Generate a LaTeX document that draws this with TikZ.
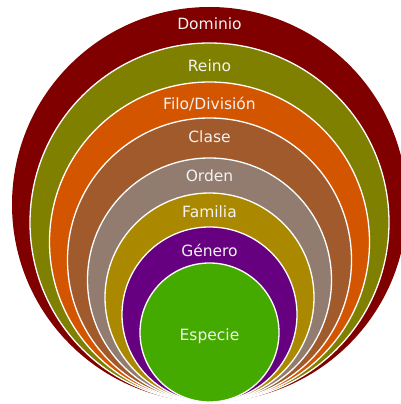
\documentclass[tikz,border=0pt]{standalone}
\usepackage{fontspec}
\setmainfont{DejaVu Sans}
\definecolor{cDominio}{HTML}{800000}
\definecolor{cReino}{HTML}{808000}
\definecolor{cFilo}{HTML}{D45500}
\definecolor{cClase}{HTML}{A05A2C}
\definecolor{cOrden}{HTML}{917C6F}
\definecolor{cFamilia}{HTML}{AA8800}
\definecolor{cGenero}{HTML}{660080}
\definecolor{cEspecie}{HTML}{44AA00}
\definecolor{labeltext}{HTML}{F2F2F2}
\begin{document}
\begin{tikzpicture}[x=1pt,y=1pt,
  ring/.style={circle, draw=white, line width=1.3pt, inner sep=0pt, minimum size=#1},
  lbl/.style={text=labeltext, anchor=base, inner sep=0pt, font=\fontsize{15.5}{18}\selectfont}]
\useasboundingbox (0,0) rectangle (401,404);
\clip (0,0) rectangle (401,404);
% nested taxonomic ranks, all touching at the bottom point
\coordinate (foot) at (209.5,2);
\node[ring=395pt, fill=cDominio, draw=none] (dominio) at (209.5,199.5) {};
\node[ring=359pt, fill=cReino]   (reino)   at (209.5,181.5) {};
\node[ring=320pt, fill=cFilo]    (filo)    at (209.5,162) {};
\node[ring=284pt, fill=cClase]   (clase)   at (209.5,144) {};
\node[ring=244pt, fill=cOrden]   (orden)   at (209.5,124) {};
\node[ring=209pt, fill=cFamilia] (familia) at (209.5,106.5) {};
\node[ring=175pt, fill=cGenero]  (genero)  at (209.5,89.5) {};
\node[ring=139pt, fill=cEspecie] (especie) at (209.5,71.5) {};
% rank names
\node[lbl] (tDominio) at (209.5,374) {Dominio};
\node[lbl] (tReino)   at (209.5,332) {Reino};
\node[lbl] (tFilo)    at (209.5,294) {Filo/División};
\node[lbl] (tClase)   at (209.5,261) {Clase};
\node[lbl] (tOrden)   at (209.5,222) {Orden};
\node[lbl] (tFamilia) at (209.5,186) {Familia};
\node[lbl] (tGenero)  at (209.5,147) {Género};
\node[lbl] (tEspecie) at (209.5,63) {Especie};
\end{tikzpicture}
\end{document}
